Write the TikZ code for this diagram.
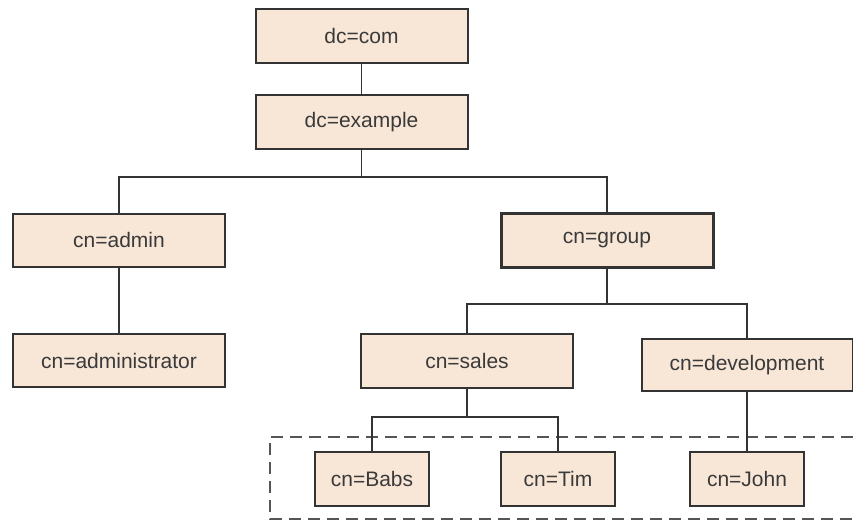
\documentclass[tikz,border=0pt]{standalone}
\usepackage{fontspec}
\setmainfont{Liberation Sans}
\definecolor{boxfill}{HTML}{F8E7D7}
\definecolor{boxline}{HTML}{333333}
\definecolor{txt}{HTML}{3A3A3A}
\definecolor{dashcol}{HTML}{555555}
\tikzset{
  entry/.style={draw=boxline, fill=boxfill, line width=2pt, rectangle,
    minimum height=54pt, inner sep=0pt, text=txt,
    font=\fontsize{21}{25}\selectfont},
  wide/.style={entry, minimum width=212pt},
  narrow/.style={entry, minimum width=114pt},
  strong/.style={line width=3pt},
  link/.style={draw=boxline, line width=1.8pt},
  groupline/.style={draw=dashcol, line width=2.4pt, dash pattern=on 12pt off 7pt}
}
\begin{document}
\begin{tikzpicture}[x=1pt,y=-1pt]
\useasboundingbox (0,0) rectangle (853,522);
\coordinate (dl) at (853,437);
\coordinate (dr) at (853,519);
\draw[groupline] (dl) -- (270,437) -- (270,519) -- (dr);
\node[wide] (com) at (361.5,35.5) {dc=com};
\node[wide] (example) at (361.5,122) {dc=example};
\node[wide, minimum height=53pt] (admin) at (119,240) {cn=admin};
\node[wide, minimum height=53pt] (administrator) at (119,360.5) {cn=administrator};
\node[wide, strong] (group) at (607,240) {cn=group};
\node[wide] (sales) at (467,361) {cn=sales};
\node[wide, minimum width=211pt, minimum height=52pt] (development) at (747,365) {cn=development};
\node[narrow] (babs) at (372,479) {cn=Babs};
\node[narrow] (tim) at (558,479) {cn=Tim};
\node[narrow] (john) at (747,479) {cn=John};
\coordinate (bus1) at (0,177);
\coordinate (bus2) at (0,304);
\coordinate (bus3) at (0,417);
\draw[link] (com) -- (example);
\draw[link] (example.south) -- (example.south |- bus1) -| (admin.north);
\draw[link] (example.south |- bus1) -| (group.north);
\draw[link] (admin) -- (administrator);
\draw[link] (group.south) -- (group.south |- bus2) -| (sales.north);
\draw[link] (group.south |- bus2) -| (development.north);
\draw[link] (sales.south) -- (sales.south |- bus3) -| (babs.north);
\draw[link] (sales.south |- bus3) -| (tim.north);
\draw[link] (development.south) -- (john.north);
\end{tikzpicture}
\end{document}
